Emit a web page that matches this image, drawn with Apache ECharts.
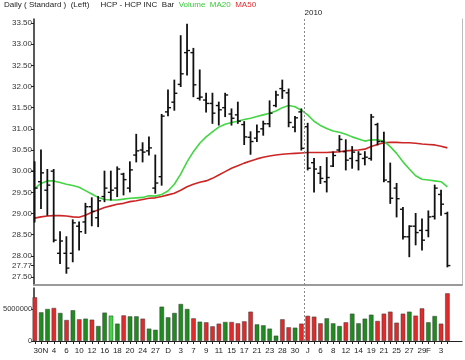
<!DOCTYPE html>
<html><head><meta charset="utf-8">
<script src="https://cdn.jsdelivr.net/npm/echarts@6/dist/echarts.min.js"></script>
<style>html,body{margin:0;padding:0;background:#fff}#c{width:465px;height:360px}</style>
</head><body><div id="c"></div>
<script>
const dates = ['2009-10-30','2009-11-02','2009-11-03','2009-11-04','2009-11-05','2009-11-06','2009-11-09','2009-11-10','2009-11-11','2009-11-12','2009-11-13','2009-11-16','2009-11-17','2009-11-18','2009-11-19','2009-11-20','2009-11-23','2009-11-24','2009-11-25','2009-11-27','2009-11-30','2009-12-01','2009-12-02','2009-12-03','2009-12-04','2009-12-07','2009-12-08','2009-12-09','2009-12-10','2009-12-11','2009-12-14','2009-12-15','2009-12-16','2009-12-17','2009-12-18','2009-12-21','2009-12-22','2009-12-23','2009-12-24','2009-12-28','2009-12-29','2009-12-30','2009-12-31','2010-01-04','2010-01-05','2010-01-06','2010-01-07','2010-01-08','2010-01-11','2010-01-12','2010-01-13','2010-01-14','2010-01-15','2010-01-19','2010-01-20','2010-01-21','2010-01-22','2010-01-25','2010-01-26','2010-01-27','2010-01-28','2010-01-29','2010-02-01','2010-02-02','2010-02-03','2010-02-04'];
const xTickLabels = ['30N','','','4','','6','','10','','12','','16','','18','','20','','24','','27','','D','','3','','7','','9','','11','','15','','17','','21','','23','','28','','30','','J','','6','','8','','12','','14','','19','','21','','25','','27','','29','F','','3',''];
const opens  = [30.0,29.75,29.55,30.0,28.06,28.06,28.06,28.7,28.8,29.16,28.9,29.4,29.5,29.6,29.93,29.6,30.38,30.5,30.48,29.6,29.87,31.4,31.63,32.05,32.8,32.8,31.72,31.68,31.6,31.55,31.5,31.35,31.33,31.1,30.8,30.78,31.0,31.12,31.55,31.95,31.85,31.04,31.4,31.05,30.2,29.95,29.75,30.12,30.5,30.46,30.3,30.25,30.3,30.3,31.1,30.7,29.75,29.6,29.1,28.45,28.7,28.6,28.6,28.93,29.45,29.0];
const highs  = [30.22,30.5,30.04,30.04,28.57,28.45,28.85,28.8,29.24,29.37,29.4,30.0,30.0,30.1,29.95,30.22,30.87,30.67,30.81,30.38,31.34,31.92,32.15,33.2,33.47,32.9,32.39,31.84,31.84,31.63,31.84,31.47,31.63,31.17,30.93,31.09,31.18,31.66,31.89,32.15,31.94,31.29,31.47,31.13,30.3,30.11,30.32,30.45,30.84,30.74,30.58,30.46,30.46,31.34,31.13,30.92,30.19,29.71,29.14,28.71,29.0,28.87,29.06,29.67,29.55,29.03];
const lows   = [28.8,29.12,28.96,28.33,27.82,27.59,27.86,28.14,28.53,28.71,28.69,29.28,29.32,29.4,29.44,29.51,30.22,30.22,30.38,29.48,29.67,31.31,31.44,32.0,32.27,31.76,31.68,31.4,31.13,31.09,31.29,31.09,31.13,30.63,30.4,30.7,30.85,31.05,31.52,31.72,31.05,30.93,30.5,30.03,29.51,29.71,29.51,30.11,30.46,30.03,30.07,30.03,30.15,30.26,30.62,29.75,29.24,28.92,28.4,27.98,28.26,28.14,28.45,28.87,28.96,27.74];
const closes = [29.6,29.96,29.67,28.37,28.35,27.71,28.78,28.57,29.16,29.05,29.3,29.6,29.55,30.05,29.8,30.03,30.48,30.45,30.55,29.72,31.3,31.5,31.84,32.3,32.85,32.04,31.75,31.6,31.37,31.45,31.8,31.25,31.18,30.81,30.7,30.93,31.12,31.37,31.8,31.9,31.15,31.26,30.54,30.07,30.05,29.83,29.85,30.37,30.75,30.26,30.45,30.4,30.33,31.28,30.7,29.79,29.36,29.35,28.45,28.7,28.55,28.37,28.92,29.6,29.22,27.77];
const volumes = [6830000,4480000,5000000,5160000,4380000,3280000,4800000,3390000,3490000,3330000,2340000,4430000,3960000,2710000,4000000,3850000,3850000,3490000,1930000,1750000,5360000,3700000,4380000,5780000,5000000,3540000,3020000,2920000,2290000,2710000,2970000,2970000,2760000,3070000,4580000,2600000,2450000,1930000,830000,3390000,2140000,2080000,2710000,3930000,3800000,2760000,3540000,2760000,2340000,2920000,4270000,2760000,3490000,4110000,3130000,4270000,4580000,2860000,4270000,4580000,3960000,5100000,2920000,3900000,2710000,7450000];
const volumeDir = ['r','g','g','r','g','r','g','r','g','r','g','g','G','g','r','g','g','r','g','g','g','g','g','g','g','r','g','r','r','r','g','r','r','r','r','g','g','g','g','r','r','g','r','r','r','r','g','g','g','r','g','g','g','g','r','r','r','r','r','g','r','r','g','g','r','r'];
const ma20 = [29.59,29.71,29.77,29.77,29.73,29.69,29.66,29.62,29.54,29.46,29.38,29.33,29.32,29.32,29.34,29.36,29.37,29.38,29.42,29.41,29.45,29.53,29.69,29.93,30.22,30.46,30.66,30.81,30.93,31.04,31.11,31.15,31.18,31.22,31.25,31.29,31.33,31.37,31.42,31.5,31.55,31.52,31.44,31.33,31.18,31.08,31.01,30.95,30.92,30.87,30.81,30.76,30.71,30.74,30.74,30.71,30.58,30.42,30.22,30.05,29.89,29.81,29.79,29.77,29.75,29.63];
const ma50 = [28.89,28.92,28.94,28.95,28.95,28.94,28.92,28.91,28.96,29.03,29.08,29.14,29.18,29.22,29.24,29.28,29.3,29.33,29.36,29.37,29.4,29.44,29.48,29.55,29.63,29.69,29.74,29.77,29.83,29.91,29.99,30.07,30.13,30.19,30.24,30.29,30.33,30.36,30.38,30.4,30.41,30.42,30.43,30.44,30.44,30.44,30.44,30.45,30.46,30.48,30.49,30.5,30.52,30.58,30.63,30.67,30.68,30.68,30.67,30.67,30.66,30.64,30.63,30.62,30.59,30.55];
const priceTicks = [27.5,27.77,28.0,28.5,29.0,29.5,30.0,30.5,31.0,31.5,32.0,32.5,33.0,33.5];
const volumeTicks = [0,5000000];
const yearBreakAt = 42.5;
const yearLabel = '2010';

const volColors = {r:'#e12a2a', g:'#1e8c1e', G:'#3fd83f'};
const idx = dates.map((d,i)=>i);
const ohlc = idx.map(i=>[i, opens[i], closes[i], lows[i], highs[i]]);
const labelIdx = idx.filter(i=>xTickLabels[i] !== '');

function renderOHLC(params, api){
  const x = api.value(0);
  const o = api.coord([x, api.value(1)]);
  const c = api.coord([x, api.value(2)]);
  const l = api.coord([x, api.value(3)]);
  const h = api.coord([x, api.value(4)]);
  const w = 3;
  const st = {stroke:'#111', lineWidth:1.8};
  return {type:'group', children:[
    {type:'line', shape:{x1:h[0],y1:h[1]-0.5,x2:l[0],y2:l[1]+0.5}, style:st},
    {type:'line', shape:{x1:o[0]-w,y1:o[1],x2:o[0],y2:o[1]}, style:{stroke:'#111',lineWidth:1.4}},
    {type:'line', shape:{x1:c[0],y1:c[1],x2:c[0]+w,y2:c[1]}, style:{stroke:'#111',lineWidth:1.4}}
  ]};
}

const XMIN = -0.1, XMAX = 67.3;
const font = 'Liberation Sans, Arial, sans-serif';
const chart = echarts.init(document.getElementById('c'), null, {renderer:'canvas'});
chart.setOption({
  animation:false,
  backgroundColor:'#fff',
  title:{
    left:4, top:1, padding:0,
    text:'{a|Daily ( Standard )  (Left)     HCP - HCP INC  Bar  }{g|Volume  MA20  }{r|MA50}',
    textStyle:{fontFamily:font, fontSize:8, fontWeight:'normal',
      rich:{a:{color:'#222',fontSize:8,fontFamily:font}, g:{color:'#39c839',fontSize:8,fontFamily:font}, r:{color:'#e03030',fontSize:8,fontFamily:font}}}
  },
  grid:[
    {left:34, right:3, top:19, height:266},
    {left:34, right:3, top:288, height:53}
  ],
  xAxis:[
    {type:'value', gridIndex:0, min:XMIN, max:XMAX, axisLabel:{show:false}, axisTick:{show:false}, splitLine:{show:false},
     axisLine:{show:true, onZero:false, lineStyle:{color:'#9a9a9a', width:2}}},
    {type:'value', gridIndex:1, min:XMIN, max:XMAX, splitLine:{show:false},
     axisLine:{show:true, onZero:false, lineStyle:{color:'#222', width:1}},
     axisTick:{show:true, customValues:idx, length:3, lineStyle:{color:'#222'}},
     axisLabel:{show:true, customValues:labelIdx, hideOverlap:false, showMinLabel:true, showMaxLabel:true,
       formatter:v=>{const t = xTickLabels[Math.round(v)]; return t.length === 3 ? '{p|' + t + '}' : t;},
       rich:{p:{fontSize:8, color:'#222', fontFamily:font, padding:[0,0,0,12]}},
       fontSize:8, color:'#222', fontFamily:font, margin:6}}
  ],
  yAxis:[
    {type:'value', gridIndex:0, min:27.311, max:33.5945, splitLine:{show:false},
     axisLine:{show:true, onZero:false, lineStyle:{color:'#222', width:1.5}},
     axisTick:{show:true, customValues:priceTicks, length:3, lineStyle:{color:'#222'}},
     axisLabel:{customValues:priceTicks, formatter:v=>v.toFixed(2), fontSize:8, color:'#333', fontFamily:font, margin:2}},
    {type:'value', gridIndex:0, position:'right', min:27.311, max:33.5945, splitLine:{show:false},
     axisLine:{show:true, onZero:false, lineStyle:{color:'#bbb', width:1}}, axisTick:{show:false}, axisLabel:{show:false}},
    {type:'value', gridIndex:1, min:0, max:8280000, splitLine:{show:false},
     axisLine:{show:true, onZero:false, lineStyle:{color:'#222', width:1.5}},
     axisTick:{show:true, customValues:volumeTicks, length:3, lineStyle:{color:'#222'}},
     axisLabel:{customValues:volumeTicks, formatter:v=>String(v), fontSize:7.5, color:'#333', fontFamily:font, margin:2}}
  ],
  series:[
    {type:'line', xAxisIndex:0, yAxisIndex:0, data:idx.map(i=>[i, ma50[i]]), showSymbol:false, lineStyle:{color:'#cc2525', width:1.6}, z:2, silent:true},
    {type:'line', xAxisIndex:0, yAxisIndex:0, data:idx.map(i=>[i, ma20[i]]), showSymbol:false, lineStyle:{color:'#44d544', width:1.6}, z:2, silent:true},
    {type:'custom', xAxisIndex:0, yAxisIndex:0, renderItem:renderOHLC, data:ohlc, encode:{x:0, y:[1,2,3,4]}, z:3, clip:false,
     markLine:{silent:true, symbol:['none','none'], lineStyle:{color:'#888', type:[2,2], width:1},
       label:{show:true, position:'end', formatter:yearLabel, color:'#222', fontSize:8, fontFamily:font, align:'left', distance:[0,2]},
       data:[{xAxis:yearBreakAt}]}},
    {type:'bar', xAxisIndex:1, yAxisIndex:2, barWidth:4.5,
     data:idx.map(i=>({value:[i, volumes[i]], itemStyle:{color:volColors[volumeDir[i]], borderColor:'#3a3a3a', borderWidth:0.5}})),
     markLine:{silent:true, symbol:['none','none'], lineStyle:{color:'#888', type:[2,2], width:1}, label:{show:false}, data:[{xAxis:yearBreakAt}]}}
  ]
});
</script></body></html>
